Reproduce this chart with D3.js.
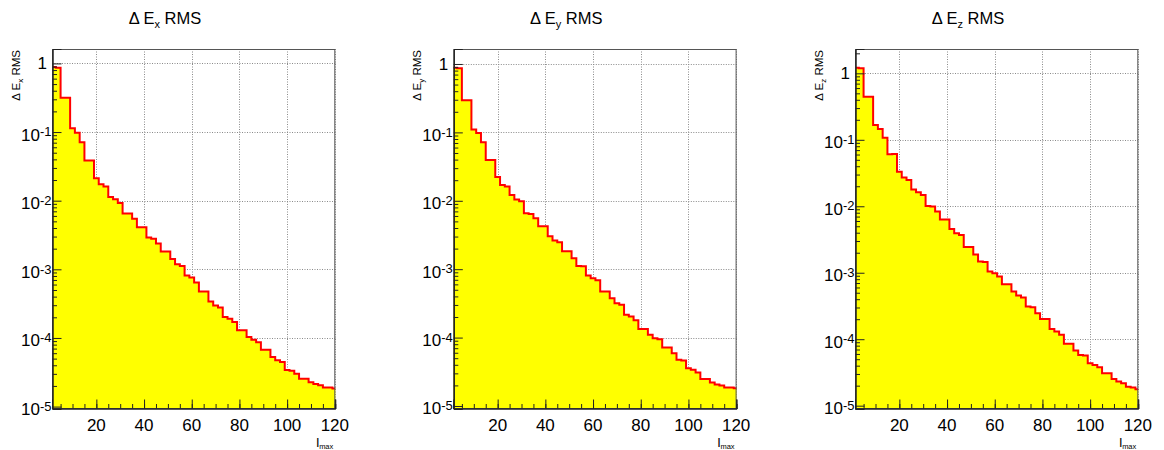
<!DOCTYPE html>
<html><head><meta charset="utf-8">
<script src="https://cdn.jsdelivr.net/npm/d3@7"></script>
<style>
body{margin:0;background:#fff}
svg{display:block}
text{font-family:"Liberation Sans",Arial,Helvetica,sans-serif;fill:#000}
</style>
</head><body>
<svg id="chart" width="1164" height="450"></svg>
<script>
// l_max bin centres (bin width 2)
const lmax = [2,4,6,8,10,12,14,16,18,20,22,24,26,28,30,32,34,36,38,40,
  42,44,46,48,50,52,54,56,58,60,62,64,66,68,70,72,74,76,78,80,
  82,84,86,88,90,92,94,96,98,100,102,104,106,108,110,112,114,116,118,120];

const dExRMS = [0.885,0.865,0.317,0.317,0.1133,0.098,0.0709,0.0384,0.0384,0.0212,
  0.01737,0.01606,0.01136,0.0105,0.00929,0.0065,0.0065,0.00544,0.00411,0.00411,
  0.00291,0.00278,0.00238,0.00182,0.00182,0.00141,0.00119,0.001114,0.000815,0.000762,
  0.000645,0.000477,0.000477,0.000341,0.000298,0.000279,0.000202,0.000191,0.000171,0.000130,
  0.000130,0.0001032,0.0000944,0.0000863,0.0000675,0.0000675,0.0000528,0.0000472,0.0000447,0.0000341,
  0.0000334,0.0000302,0.0000255,0.0000255,0.0000226,0.0000214,0.0000204,0.0000189,0.0000189,0.0000183];

const dEyRMS = [0.884,0.864,0.2944,0.2944,0.1098,0.0981,0.0717,0.0396,0.0396,0.02233,
  0.01706,0.01612,0.01218,0.01041,0.00984,0.00657,0.00643,0.00556,0.00425,0.00425,
  0.00303,0.00262,0.00248,0.00183,0.00183,0.001446,0.001117,0.001105,0.000807,0.000738,
  0.00069,0.000471,0.000471,0.000377,0.000318,0.000301,0.000215,0.000203,0.0001795,0.000134,
  0.000134,0.0001096,0.000098,0.0000948,0.0000716,0.0000716,0.0000592,0.0000473,0.0000462,0.0000357,
  0.0000338,0.0000309,0.0000249,0.0000249,0.000022,0.0000206,0.00002,0.0000186,0.0000186,0.0000182];

const dEzRMS = [1.217,1.189,0.4458,0.4458,0.1671,0.1455,0.1078,0.0605,0.0612,0.0332,
  0.02698,0.0249,0.01781,0.01623,0.0148,0.01012,0.00989,0.00832,0.0063,0.0063,
  0.00456,0.003925,0.003706,0.002446,0.002446,0.001876,0.001472,0.001455,0.001042,0.000983,
  0.000876,0.000672,0.000672,0.000521,0.000454,0.000423,0.00031,0.000303,0.000246,0.000202,
  0.000202,0.000143,0.0001304,0.0001162,0.0000851,0.0000851,0.0000675,0.0000581,0.0000568,0.0000436,
  0.0000411,0.0000379,0.0000308,0.0000308,0.0000253,0.0000231,0.0000218,0.0000192,0.0000188,0.0000177];

const xTickLabels = [20,40,60,80,100,120];
const xMinorTicks = [5,10,15,20,25,30,35,40,45,50,55,60,65,70,75,80,85,90,95,100,105,110,115,120];
const yDecadeExps = [0,-1,-2,-3,-4,-5];
const components = ["x","y","z"];
const series = [dExRMS, dEyRMS, dEzRMS];

// layout (positions only)
const panels = [
  {left:52,    right:335.3,  top:49, bottom:409, yLo:-5.035, yHi:0.21},
  {left:453.3, right:736.6,  top:49, bottom:409, yLo:-5.044, yHi:0.219},
  {left:855,   right:1138.3, top:49, bottom:409, yLo:-5.05,  yHi:0.366}
];
const xDomain = [1.4, 120.2];

const svg = d3.select("#chart");

panels.forEach((p, pi) => {
  const data = series[pi];
  const comp = components[pi];
  const x = d3.scaleLinear().domain(xDomain).range([p.left, p.right]);
  const y = d3.scaleLog().domain([Math.pow(10,p.yLo), Math.pow(10,p.yHi)]).range([p.bottom, p.top]);
  const g = svg.append("g");

  const clipId = "clip" + pi;
  svg.append("clipPath").attr("id", clipId).append("rect")
    .attr("x", p.left).attr("y", p.top).attr("width", p.right - p.left).attr("height", p.bottom - p.top);

  g.append("rect").attr("x", p.left).attr("y", p.top).attr("width", p.right-p.left).attr("height", p.bottom-p.top)
    .attr("fill", "#fff");

  // grid
  const grid = g.append("g").attr("stroke", "#8a8a8a").attr("stroke-width", 1).attr("stroke-dasharray", "1,1.5");
  xTickLabels.forEach(t => {
    grid.append("line").attr("x1", Math.round(x(t))+0.5).attr("x2", Math.round(x(t))+0.5)
      .attr("y1", p.top).attr("y2", p.bottom);
  });
  yDecadeExps.forEach(e => {
    const yy = Math.round(y(Math.pow(10,e)))+0.5;
    grid.append("line").attr("x1", p.left).attr("x2", p.right).attr("y1", yy).attr("y2", yy);
  });

  // histogram step points
  const pts = [];
  data.forEach((v, i) => {
    pts.push([lmax[i]-1, v]);
    pts.push([lmax[i]+1, v]);
  });
  const area = d3.area().x(d => x(d[0])).y0(p.bottom).y1(d => y(d[1]));
  const line = d3.line().x(d => x(d[0])).y(d => y(d[1]));
  const hg = g.append("g").attr("clip-path", `url(#${clipId})`);
  hg.append("path").attr("d", area(pts)).attr("fill", "#ffff00");
  hg.append("path").attr("d", line(pts)).attr("fill", "none").attr("stroke", "#ff0000")
    .attr("stroke-width", 2).attr("stroke-linejoin", "miter");

  // frame
  g.append("rect").attr("x", p.left+0.5).attr("y", p.top+0.5).attr("width", p.right-p.left-1).attr("height", p.bottom-p.top-1)
    .attr("fill", "none").attr("stroke", "#555").attr("stroke-width", 1);

  // x axis ticks (inward)
  const xAxisMinor = d3.axisBottom(x).tickValues(xMinorTicks.filter(t => t > xDomain[0] && t <= xDomain[1])).tickSize(-4.5).tickFormat("");
  const xAxisMajor = d3.axisBottom(x).tickValues(xTickLabels).tickSize(-9).tickFormat("");
  [xAxisMinor, xAxisMajor].forEach(ax => {
    const a = g.append("g").attr("transform", `translate(0,${p.bottom-0.5})`).call(ax);
    a.select(".domain").attr("stroke", "#222");
    a.selectAll(".tick line").attr("stroke", "#222");
  });

  // y axis ticks (inward)
  const yMinor = [];
  for (let e = -6; e <= 1; e++) for (let k = 2; k <= 9; k++) {
    const v = k * Math.pow(10, e);
    if (Math.log10(v) > p.yLo && Math.log10(v) < p.yHi) yMinor.push(v);
  }
  const yMajor = yDecadeExps.map(e => Math.pow(10, e));
  const yAxisMinor = d3.axisLeft(y).tickValues(yMinor).tickSize(-4.5).tickFormat("");
  const yAxisMajor = d3.axisLeft(y).tickValues(yMajor).tickSize(-9).tickFormat("");
  [yAxisMinor, yAxisMajor].forEach(ax => {
    const a = g.append("g").attr("transform", `translate(${p.left+0.5},0)`).call(ax);
    a.select(".domain").attr("stroke", "#222");
    a.selectAll(".tick line").attr("stroke", "#222");
  });

  // x tick labels
  xTickLabels.forEach(t => {
    g.append("text").attr("x", x(t)).attr("y", p.bottom + 22).attr("text-anchor", "middle")
      .attr("font-size", 17).text(t);
  });

  // y tick labels
  yDecadeExps.forEach(e => {
    const yy = y(Math.pow(10, e));
    if (e === 0) {
      g.append("text").attr("x", p.left - 5).attr("y", yy + 6).attr("text-anchor", "end")
        .attr("font-size", 17).text("1");
    } else {
      const t = g.append("text").attr("x", p.left - 0.5).attr("y", yy + 8.5).attr("text-anchor", "end")
        .attr("font-size", 17);
      t.append("tspan").text("10");
      t.append("tspan").attr("font-size", 13).attr("dy", -4.3).text(String(e));
    }
  });

  // x axis title
  const xt = g.append("text").attr("x", p.right - 2).attr("y", p.bottom + 37.5).attr("text-anchor", "end")
    .attr("font-size", 13.5);
  xt.append("tspan").text("l");
  xt.append("tspan").attr("font-size", 7.5).attr("dy", 2).text("max");

  // y axis title
  const yt = g.append("text").attr("transform", `translate(${p.left - 32},${p.top + 1}) rotate(-90)`)
    .attr("text-anchor", "end").attr("font-size", 11.5);
  yt.append("tspan").text("\u0394 E");
  yt.append("tspan").attr("font-size", 8).attr("dy", 2.5).text(comp);
  yt.append("tspan").attr("dy", -2.5).text(" RMS");

  // title
  const tt = g.append("text").attr("x", p.left + 113).attr("y", 24).attr("text-anchor", "middle")
    .attr("font-size", 16.5);
  tt.append("tspan").text("\u0394 E");
  tt.append("tspan").attr("font-size", 11).attr("dy", 4).text(comp);
  tt.append("tspan").attr("dy", -4).text(" RMS");
});
</script>
</body></html>
